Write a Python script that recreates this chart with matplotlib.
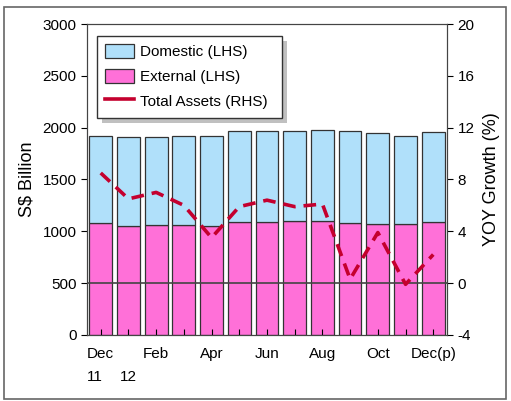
import numpy as np
import matplotlib.pyplot as plt
from matplotlib.patches import Rectangle
from matplotlib.lines import Line2D

plt.rcParams['font.family'] = ['Liberation Sans', 'DejaVu Sans']
plt.rcParams['axes.unicode_minus'] = False

months = ["Dec\n11", "\n12", "Feb", "", "Apr", "", "Jun", "", "Aug", "", "Oct", "", "Dec(p)"]
total = [1919, 1906, 1912, 1922, 1915, 1964, 1964, 1970, 1977, 1964, 1951, 1922, 1954]
external = [1077, 1052, 1058, 1064, 1051, 1086, 1086, 1096, 1100, 1077, 1067, 1067, 1090]
domestic = [t - e for t, e in zip(total, external)]
yoy = [8.5, 6.5, 7.0, 6.0, 3.5, 5.9, 6.4, 5.9, 6.1, 0.3, 3.9, -0.1, 2.2]

blue = '#b0e0fa'
pink = '#ff70d8'
red = '#c4002e'

fig = plt.figure(figsize=(5.11, 4.01), dpi=100)
fig.patches.append(Rectangle((0.008, 0.005), 0.982, 0.978, transform=fig.transFigure,
                             fill=False, edgecolor='#666666', lw=1.2))
ax = fig.add_axes([0.170, 0.165, 0.705, 0.775])
x = np.arange(len(months))

ax.bar(x, external, width=0.82, color=pink, edgecolor='#333333', lw=0.9, label='External (LHS)')
ax.bar(x, domestic, bottom=external, width=0.82, color=blue, edgecolor='#333333', lw=0.9,
       label='Domestic (LHS)')
ax.set_xlim(-0.5, len(months) - 0.5)
ax.set_ylim(0, 3000)
ax.set_yticks(np.arange(0, 3001, 500))
ax.set_xticks(x)
ax.set_xticklabels(months, fontsize=11, multialignment='left', linespacing=1.75)
ax.tick_params(axis='x', direction='in', length=4, pad=9)
ax.tick_params(axis='y', direction='out', length=4, labelsize=11)
ax.set_ylabel('S$ Billion', fontsize=13, labelpad=5)
for s in ax.spines.values():
    s.set_color('#444444')

ax2 = ax.twinx()
ax2.set_ylim(-4, 20)
ax2.set_yticks(np.arange(-4, 21, 4))
ax2.tick_params(axis='y', direction='out', length=4, labelsize=11)
ax2.axhline(0, color='#444444', lw=1.2, zorder=1)
ax2.plot(x, yoy, color=red, lw=2.6, linestyle=(0, (3.5, 2.2)))
ax2.set_ylabel('YOY Growth (%)', fontsize=13, labelpad=6)
for s in ax2.spines.values():
    s.set_color('#444444')

# legend box with a flat grey shadow
lx, ly, lw_, lh = 0.028, 0.698, 0.514, 0.263
ax2.add_patch(Rectangle((lx + 5 / 360, ly - 5 / 311), lw_, lh, transform=ax2.transAxes,
                        facecolor='#c0c0c0', edgecolor='none', zorder=4, clip_on=False))
ax2.add_patch(Rectangle((lx, ly), lw_, lh, transform=ax2.transAxes,
                        facecolor='white', edgecolor='#333333', lw=1.0, zorder=4.5, clip_on=False))
h1, l1 = ax.get_legend_handles_labels()
line_handle = Line2D([], [], color=red, lw=2.6)
leg = ax2.legend([h1[1], h1[0], line_handle], [l1[1], l1[0], 'Total Assets (RHS)'],
                 loc='upper left', bbox_to_anchor=(lx, ly + lh), borderaxespad=0, fontsize=11,
                 frameon=False, borderpad=0.5, labelspacing=0.6, handlelength=1.9,
                 handleheight=1.1, handletextpad=0.45)
leg.set_zorder(5)

fig.savefig('out.png', dpi=100)
